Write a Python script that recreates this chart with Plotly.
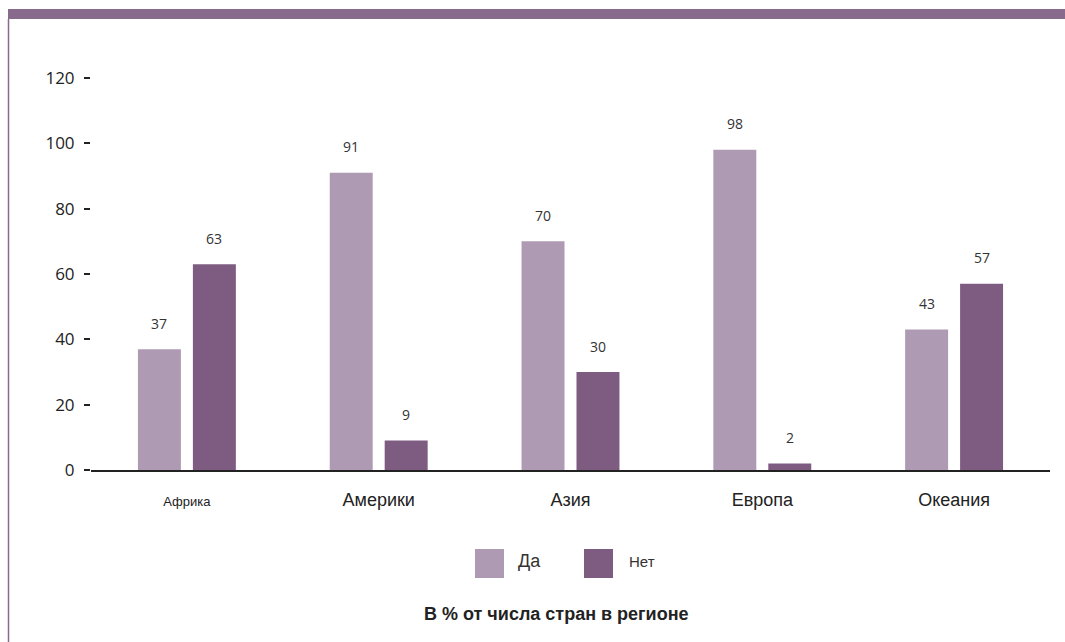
import plotly.graph_objects as go

categories = ["Африка", "Америки", "Азия", "Европа", "Океания"]
yes_values = [37, 91, 70, 98, 43]
no_values = [63, 9, 30, 2, 57]
series_names = ["Да", "Нет"]
y_ticks = [0, 20, 40, 60, 80, 100, 120]
caption = "В % от числа стран в регионе"

c_yes = "#ae9bb3"
c_no = "#7e5c82"
band = "#876a8c"

tick_text = ["<span style='font-size:13px'>Африка</span>"] + categories[1:]

fig = go.Figure()
fig.add_trace(go.Bar(x=categories, y=yes_values, name=series_names[0],
                     marker=dict(color=c_yes, line=dict(width=0)), showlegend=False))
fig.add_trace(go.Bar(x=categories, y=no_values, name=series_names[1],
                     marker=dict(color=c_no, line=dict(width=0)), showlegend=False))

ann = []
for i, cat in enumerate(categories):
    for vals, shift in ((yes_values, -27.5), (no_values, 27.5)):
        ann.append(dict(x=cat, y=vals[i], xref="x", yref="y", text=str(vals[i]),
                        showarrow=False, xshift=shift, yshift=26,
                        font=dict(family="Open Sans", size=14, color="#333")))

# manual legend
legend_items = [(series_names[0], c_yes, 475, 516, 18), (series_names[1], c_no, 584, 627, 15)]
shapes = []
W, H = 1065, 642
for name, col, x0, tx, fs in legend_items:
    shapes.append(dict(type="rect", xref="paper", yref="paper",
                       x0=(x0 - 91) / 959, x1=(x0 + 29 - 91) / 959,
                       y0=(470 - 578) / 392, y1=(470 - 549) / 392,
                       fillcolor=col, line=dict(width=0)))
    ann.append(dict(x=(tx - 91) / 959, y=(470 - 561) / 392, xref="paper", yref="paper",
                    text=name, showarrow=False, xanchor="left", yanchor="middle",
                    font=dict(family="Liberation Sans", size=fs, color="#333")))

ann.append(dict(x=(556 - 91) / 959, y=(470 - 614) / 392, xref="paper", yref="paper",
                text="<b>" + caption + "</b>", showarrow=False, xanchor="center", yanchor="middle",
                font=dict(family="Liberation Sans", size=18, color="#222")))

# decorative frame: top band and left line
shapes.append(dict(type="rect", xref="paper", yref="paper",
                   x0=(8 - 91) / 959, x1=(1065 - 91) / 959,
                   y0=(470 - 19) / 392, y1=(470 - 9) / 392,
                   fillcolor=band, line=dict(width=0), layer="above"))
shapes.append(dict(type="line", xref="paper", yref="paper",
                   x0=(8.5 - 91) / 959, x1=(8.5 - 91) / 959,
                   y0=(470 - 642) / 392, y1=(470 - 19) / 392,
                   line=dict(color=band, width=1.5)))

fig.update_layout(
    width=W, height=H,
    margin=dict(l=91, r=15, t=78, b=172),
    paper_bgcolor="white", plot_bgcolor="white",
    barmode="group", bargap=0.427, bargroupgap=0.218,
    annotations=ann, shapes=shapes,
    xaxis=dict(tickmode="array", tickvals=categories, ticktext=tick_text,
               showline=True, linecolor="#222", linewidth=2, ticks="",
               tickfont=dict(family="Liberation Sans", size=18, color="#222"),
               showgrid=False, zeroline=False, ticklabelstandoff=12),
    yaxis=dict(range=[0, 120], tickvals=y_ticks, showgrid=False, zeroline=False,
               showline=False, ticks="outside", ticklen=6, tickwidth=2, tickcolor="#222",
               tickfont=dict(family="Open Sans", size=17, color="#222"),
               ticklabelstandoff=6),
)
fig.write_html("out.html")
